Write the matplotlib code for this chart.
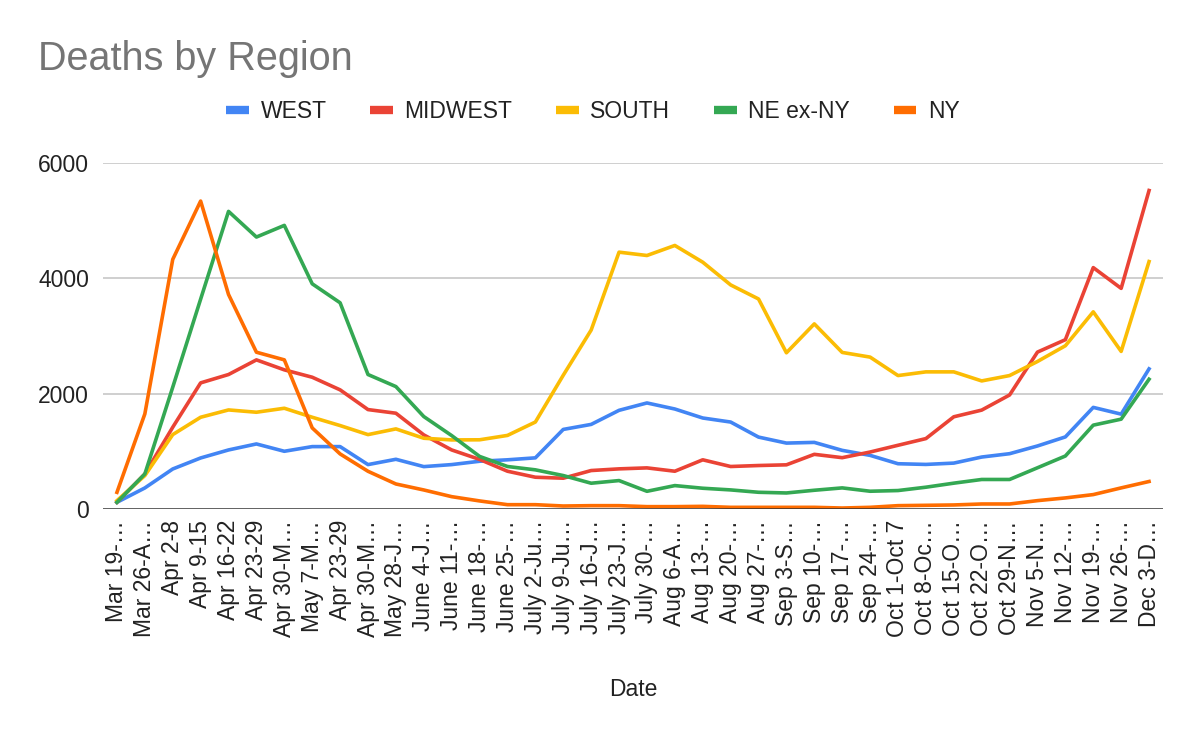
import matplotlib
matplotlib.use("Agg")
import matplotlib.pyplot as plt

plt.rcParams['font.family'] = ['Liberation Sans', 'DejaVu Sans']

# weekly labels as they appear (truncated) on the chart
dates = [
    "Mar 19-…", "Mar 26-A…", "Apr 2-8", "Apr 9-15", "Apr 16-22", "Apr 23-29",
    "Apr 30-M…", "May 7-M…", "Apr 23-29", "Apr 30-M…", "May 28-J…", "June 4-J…",
    "June 11-…", "June 18-…", "June 25-…", "July 2-Ju…", "July 9-Ju…", "July 16-J…",
    "July 23-J…", "July 30-…", "Aug 6-A…", "Aug 13-…", "Aug 20-…", "Aug 27-…",
    "Sep 3-S…", "Sep 10-…", "Sep 17-…", "Sep 24-…", "Oct 1-Oct 7", "Oct 8-Oc…",
    "Oct 15-O…", "Oct 22-O…", "Oct 29-N…", "Nov 5-N…", "Nov 12-…", "Nov 19-…",
    "Nov 26-…", "Dec 3-D…",
]

west = [116, 365, 694, 885, 1024, 1128, 1001, 1082, 1082, 770, 862, 735, 770,
        828, 853, 887, 1380, 1467, 1711, 1839, 1734, 1578, 1508, 1247, 1143,
        1155, 1017, 930, 785, 773, 796, 901, 959, 1093, 1250, 1762, 1645, 2430]
midwest = [116, 607, 1418, 2187, 2332, 2586, 2413, 2285, 2066, 1724, 1661, 1285,
           1024, 860, 655, 551, 534, 667, 696, 713, 655, 853, 737, 754, 766,
           948, 890, 988, 1105, 1221, 1599, 1715, 1977, 2721, 2936, 4186, 3826, 5523]
south = [145, 579, 1290, 1591, 1718, 1678, 1747, 1591, 1447, 1290, 1389, 1227,
         1198, 1200, 1276, 1508, 2320, 3103, 4454, 4396, 4570, 4280, 3886, 3642,
         2709, 3210, 2715, 2634, 2314, 2378, 2378, 2221, 2314, 2558, 2831, 3419,
         2733, 4291]
ne_ex_ny = [116, 607, 2112, 3639, 5161, 4716, 4918, 3905, 3576, 2332, 2123, 1603,
            1273, 912, 737, 679, 580, 447, 493, 307, 406, 360, 331, 290, 278,
            325, 366, 308, 320, 378, 448, 512, 512, 715, 919, 1454, 1558, 2250]
ny = [289, 1649, 4328, 5340, 3720, 2719, 2586, 1406, 955, 654, 434, 330, 214,
      140, 75, 75, 52, 58, 58, 41, 41, 46, 29, 29, 29, 29, 17, 29, 58, 64, 70,
      87, 87, 145, 192, 250, 366, 477]

series = [
    ("WEST", west, "#4285F4"),
    ("MIDWEST", midwest, "#EA4335"),
    ("SOUTH", south, "#FBBC04"),
    ("NE ex-NY", ne_ex_ny, "#34A853"),
    ("NY", ny, "#FF6D01"),
]

fig = plt.figure(figsize=(12, 7.42), dpi=100)
ax = fig.add_axes([103 / 1200, 1 - 509 / 742, 1060 / 1200, 346 / 742])

x = list(range(len(dates)))
for name, vals, col in series:
    ax.plot(x, vals, color=col, lw=2.6, label=name, solid_joinstyle='round')

ax.set_xlim(-0.5, len(dates) - 0.5)
ax.set_ylim(0, 6000)
ax.set_yticks([0, 2000, 4000, 6000])
for v in [2000, 4000, 6000]:
    ax.axhline(v, color="#cccccc", lw=1.3, zorder=0)
ax.axhline(0, color="#333333", lw=1.8, zorder=3)

ax.set_xticks(x)
ax.set_xticklabels(dates, rotation=90)
ax.tick_params(axis='x', length=0, pad=8, labelsize=16.5, labelcolor="#222222")
ax.tick_params(axis='y', length=0, pad=10, labelsize=16.5, labelcolor="#222222")
for s in ax.spines.values():
    s.set_visible(False)

fig.text(38 / 1200, 1 - 70 / 742, "Deaths by Region", fontsize=28.5,
         color="#757575", ha='left', va='baseline')
fig.text(633 / 1200, 1 - 690 / 742, "Date", fontsize=16.5, color="#222222",
         ha='center', va='center')

leg = fig.legend(loc='center', bbox_to_anchor=(593 / 1200, 1 - 112 / 742),
                 ncol=5, frameon=False, fontsize=16.5, handlelength=1.0,
                 handletextpad=0.5, columnspacing=1.9)
for h in leg.get_lines():
    h.set_linewidth(6)
    h.set_solid_capstyle('butt')
for t in leg.get_texts():
    t.set_color("#222222")

fig.savefig("out.png", dpi=100)
